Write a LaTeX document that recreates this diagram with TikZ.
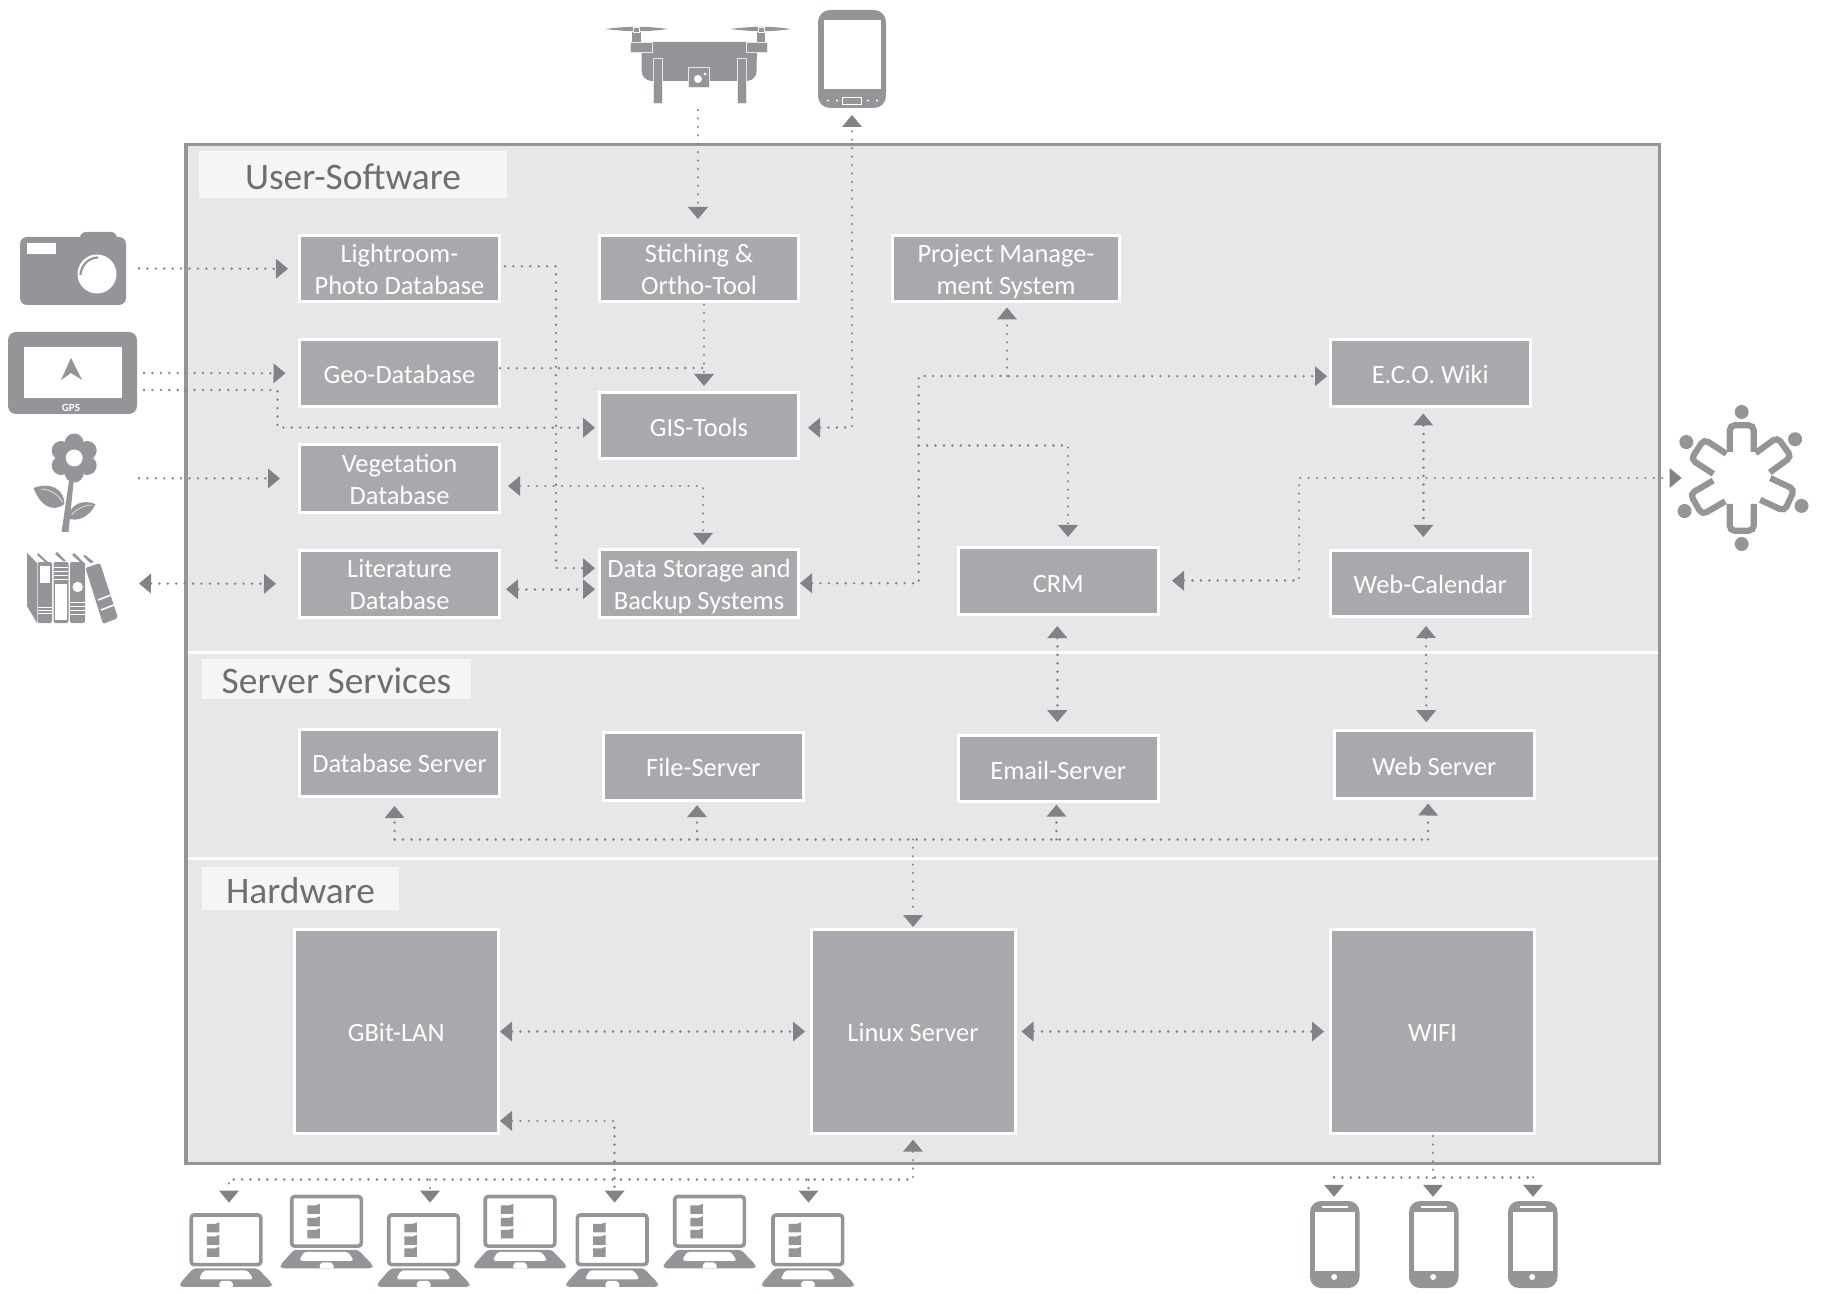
\documentclass[tikz,border=0pt]{standalone}
\usepackage{fontspec}
\setmainfont{Carlito}
\usetikzlibrary{arrows.meta,calc}
\definecolor{bgc}{HTML}{E6E7E8}
\definecolor{boxc}{HTML}{A7A9AC}
\definecolor{icoc}{HTML}{939598}
\definecolor{arrc}{HTML}{808285}
\definecolor{lblc}{HTML}{F4F6F6}
\definecolor{txtc}{HTML}{6D6E71}
\newcommand{\tst}{\rule[-3.05pt]{0pt}{16pt}}
\newcommand{\sst}{\rule[-2.4pt]{0pt}{20pt}}
\tikzset{
  conn/.style={draw=arrc,fill=none,line width=1.3pt,line cap=round,dash pattern=on 0.01pt off 4.2pt},
  >={Triangle[length=6pt,width=10pt,line width=0pt]},
  boxn/.style={draw=white,fill=boxc,line width=1.5pt,text=white,align=center,inner sep=0pt,
    font=\fontsize{13.2}{16}\selectfont},
  secn/.style={fill=lblc,text=txtc,inner sep=0pt,font=\fontsize{18.7}{20}\selectfont},
  ico/.style={fill=icoc,draw=none},
  wht/.style={fill=white,draw=none},
}
\newcommand{\bx}[6]{\node[boxn,minimum width={(#4-#2-3)*0.5pt},minimum height={(#5-#3-3)*0.5pt}] (#1) at ({(#2+#4)/2},{(#3+#5)/2}) {#6};}
\newcommand{\secbox}[6]{\node[secn,minimum width={(#4-#2)*0.5pt},minimum height={(#5-#3)*0.5pt}] (#1) at ({(#2+#4)/2},{(#3+#5)/2}) {\sst #6};}
\newcommand{\lapt}[2]{%
\begin{scope}[shift={(#1,#2)}]
  \draw[draw=icoc,fill=white,line width=1.8pt,rounded corners=1.5pt] (1.7,1.7) rectangle (71.3,51.3);
  \fill[ico,rounded corners=1.5pt] (4,55) -- (68,55) -- (82.5,70) -- (82.5,73.5) -- (-9.5,73.5) -- (-9.5,70) -- cycle;
  \fill[wht,rounded corners=1.5pt] (14,57) -- (58,57) -- (64,66) -- (9,66) -- cycle;
  \fill[wht,rounded corners=.8pt] (29,73.5) -- (31,67.5) -- (42,67.5) -- (44.5,73.5) -- cycle;
  \foreach \yy in {9,21.5,33.5} {
    \fill[ico] (17.3,\yy+1.5) -- (26,\yy+1.5) -- (29.8,\yy) -- (29.8,\yy+10) -- (17.3,\yy+10) -- cycle;
  }
\end{scope}}
\newcommand{\phone}[1]{%
\begin{scope}[shift={(#1,1201)}]
  \fill[ico,rounded corners=5.5pt] (0,0) rectangle (49.5,87);
  \fill[wht] (4.5,11) rectangle (44.7,70);
  \fill[wht] (11.5,5.3) rectangle (37.7,6.8);
  \fill[wht] (24.2,76) circle (3);
\end{scope}}
\begin{document}
\begin{tikzpicture}[x=0.5pt,y=-0.5pt]
\useasboundingbox (0,0) rectangle (1821,1294);
% frame
\draw[draw=icoc,fill=bgc,line width=1.6pt] (186,144.8) rectangle (1659.5,1163.2);
\draw[white,line width=1.3pt] (187.5,652.5) -- (1658,652.5);
\draw[white,line width=1.3pt] (187.5,858.2) -- (1658,858.2);
% section labels
\secbox{lusr}{199}{151.5}{507}{198}{User-Software}
\secbox{lsrv}{202}{658.5}{471}{699}{Server Services}
\secbox{lhw}{202}{866.5}{399}{910}{Hardware}
% boxes
\bx{lrm}{298}{234}{501}{303.5}{\tst Lightroom-\\\tst Photo Database}
\bx{stch}{598}{234}{800}{303.5}{\tst Stiching \&\\\tst Ortho-Tool}
\bx{pms}{891}{234}{1121}{303.5}{\tst Project Manage-\\\tst ment System}
\bx{geo}{298}{338}{501}{408.5}{\tst Geo-Database}
\bx{gis}{598}{391}{800}{460.5}{\tst\raisebox{-.5pt}{GIS-Tools}}
\bx{veg}{298}{443}{501}{514}{\tst Vegetation\\\tst Database}
\bx{lit}{298}{548.5}{501}{619}{\tst Literature\\\tst Database}
\bx{dsb}{598}{548}{800}{618.5}{\tst Data Storage and\\\tst Backup Systems}
\bx{wiki}{1329}{338}{1531.5}{408.5}{\tst E.C.O. Wiki}
\bx{crm}{957}{546}{1159.5}{615.5}{\tst\raisebox{-1pt}{CRM}}
\bx{wcal}{1329}{548.5}{1531.5}{618}{\tst Web-Calendar}
\bx{dbs}{298}{727.6}{501}{798.2}{\tst Database Server}
\bx{fils}{602}{731.3}{804.5}{801.5}{\tst\raisebox{-.3pt}{File-Server}}
\bx{mail}{957}{734.3}{1159.5}{803}{\tst\raisebox{-.3pt}{Email-Server}}
\bx{webs}{1333}{729.3}{1535.5}{800}{\tst\raisebox{-.3pt}{Web Server}}
\bx{gbit}{293}{928}{499.5}{1135}{\tst GBit-LAN}
\bx{lnx}{809.5}{928}{1016.5}{1135}{\tst Linux Server}
\bx{wifi}{1329}{928}{1536}{1135}{\tst WIFI}
% free ends
\coordinate (drn) at (698,110);
\coordinate (tabp) at (852,115);
\coordinate (cam) at (139,268.5);
\coordinate (gpsa) at (144,373);
\coordinate (gpsb) at (144,390);
\coordinate (flw) at (139,478.25);
\coordinate (bks) at (139,583.5);
\coordinate (teamp) at (1681.6,478);
\coordinate (lapa) at (229,1202.6);
\coordinate (lapb) at (430,1202.6);
\coordinate (lapc) at (614.6,1202.6);
\coordinate (lapd) at (808.5,1202.6);
\coordinate (pha) at (1334,1196.8);
\coordinate (phb) at (1433,1196.8);
\coordinate (phc) at (1533,1196.8);
% helper corners
\coordinate (c1) at (556,568);
\coordinate (c2) at (277.5,427.5);
\coordinate (c3) at (918.7,376);
\coordinate (c3b) at (918.7,445.3);
\coordinate (c3c) at (1007,376);
\coordinate (c4) at (1299,478);
\coordinate (jg) at (704,368);
\coordinate (busl) at (394.6,839.4);
\coordinate (busr) at (1428,839.4);
\coordinate (busf) at (697,839.4);
\coordinate (busm) at (1056.5,839.4);
\coordinate (busx) at (913,839.4);
\coordinate (bota) at (913,1179.7);
\coordinate (botb) at (229,1179.7);
\coordinate (botc) at (430,1179.7);
\coordinate (botd) at (808.5,1179.7);
\coordinate (wfa) at (1334,1177.2);
\coordinate (wfc) at (1533,1177.2);
% connectors
\draw[conn,->] (drn) -- ($(stch.north)+(-1,-15)$);
\draw[conn,<->] ($(gis.east)+(8,2)$) -| (tabp);
\draw[conn,->] (cam) -- ($(lrm.west)+(-10,0)$);
\draw[conn,->] ($(lrm.east)+(4,-2.5)$) -| (c1) -- ($(dsb.west)+(-3,-15)$);
\draw[conn,->] ($(stch.south)+(5,1)$) -- ($(gis.north)+(5,-5)$);
\draw[conn] ($(geo.east)+(-1,-5)$) -- (jg);
\draw[conn,->] (gpsa) -- ($(geo.west)+(-12.5,0)$);
\draw[conn,->] (gpsb) -| (c2) -- ($(gis.west)+(-3,2)$);
\draw[conn,->] (flw) -- ($(veg.west)+(-18,0)$);
\draw[conn,<->] ($(veg.east)+(7,7.5)$) -| ($(dsb.north)+(4,-3)$);
\draw[conn,<->] (bks) -- ($(lit.west)+(-22,0)$);
\draw[conn,<->] ($(lit.east)+(5,5.5)$) -- ($(dsb.west)+(-3,6)$);
\draw[conn,<->] ($(dsb.east)+(0,0)$) -| (c3) -- ($(wiki.west)+(-2,3)$);
\draw[conn,->] (c3c) -- ($(pms.south)+(1,4)$);
\draw[conn,->] (c3b) -| ($(crm.north)+(9.75,-9)$);
\draw[conn,<->] ($(wiki.south)+(-7,5)$) -- ($(wcal.north)+(-7,-11.5)$);
\draw[conn,<->] ($(crm.east)+(12.5,0)$) -| (c4) -- (teamp);
\draw[conn,<->] ($(crm.south)+(-1,10.5)$) -- ($(mail.north)+(-1,-12.1)$);
\draw[conn,<->] ($(wcal.south)+(-4.25,8)$) -- ($(webs.north)+(-8,-7.1)$);
\draw[conn] (busl) -- (busr);
\draw[conn,->] (busl) -- ($(dbs.south)+(-5,7.8)$);
\draw[conn,->] (busf) -- ($(fils.south)+(-6.2,3.7)$);
\draw[conn,->] (busm) -- ($(mail.south)+(-1.75,1.7)$);
\draw[conn,->] (busr) -- ($(webs.south)+(-6.2,3.5)$);
\draw[conn,->] (busx) -- ($(lnx.north)+(0,-1)$);
\draw[conn,<->] ($(gbit.east)+(.5,0)$) -- ($(lnx.west)+(-4.5,0)$);
\draw[conn,<->] ($(lnx.east)+(5,0)$) -- ($(wifi.west)+(-5,0)$);
\draw[conn,<->] ($(lnx.south)+(0,4.7)$) -- (bota) -- (botb) -- (lapa);
\draw[conn,->] (botc) -- (lapb);
\draw[conn,->] (botd) -- (lapd);
\draw[conn,<->] ($(gbit.east)+(.5,89.4)$) -| (lapc);
\draw[conn,->] ($(wifi.south)+(.5,1)$) -- (phb);
\draw[conn] (wfa) -- (wfc);
\draw[conn,->] (wfa) -- (pha);
\draw[conn,->] (wfc) -- (phc);
% drone
\fill[ico,rounded corners=5pt] (641.7,42) -- (756.7,42) -- (756.7,81) -- (641.7,81) -- cycle;
\fill[ico] (641.7,42) rectangle (756.7,60);
\fill[ico] (605,29) .. controls (630,26) and (645,26) .. (668,29) .. controls (645,32) and (630,32) .. (605,29) -- cycle;
\fill[ico] (730,29) .. controls (755,26) and (770,26) .. (791,29) .. controls (770,32) and (755,32) .. (730,29) -- cycle;
\fill[ico] (632,32) rectangle (641,42);
\fill[ico] (757,32) rectangle (765,42);
\draw[ico,draw=lblc,line width=.4pt] (633.5,27) rectangle (639.5,32);
\draw[ico,draw=lblc,line width=.4pt] (758,27) rectangle (764,32);
\draw[ico,draw=bgc,line width=.4pt] (630,42) rectangle (652,52);
\draw[ico,draw=bgc,line width=.4pt] (746,42) rectangle (767,52);
\draw[ico,draw=bgc,line width=.4pt] (653,58) rectangle (662,103);
\draw[ico,draw=bgc,line width=.4pt] (737,58) rectangle (746,103);
\draw[ico,draw=bgc,line width=.5pt] (688,68) rectangle (709,88);
\fill[wht] (698,79) circle (4);
\fill[wht] (705,74) circle (1.5);
% tablet
\fill[ico,rounded corners=6pt] (818,10) rectangle (886,108);
\fill[wht] (824,20) rectangle (881,89);
\draw[white,line width=.4pt] (842,97) rectangle (861,104);
\foreach \xx in {828,837,868,877} {\fill[wht] (\xx,100.5) circle (1.2);}
% camera
\fill[ico,rounded corners=3.5pt] (20,237) rectangle (126,305);
\fill[ico,rounded corners=3pt] (80,232) rectangle (117,245);
\fill[wht] (27,243.5) rectangle (56,254.5);
\fill[wht] (97,274) circle (19.5);
\draw[icoc,line width=1.1pt] (98,257.5) .. controls (89,257.5) and (81,265) .. (80.5,275);
% gps
\fill[ico,rounded corners=4pt] (8,332) rectangle (137,414);
\fill[wht] (24,347) rectangle (122,398);
\fill[ico] (71,358) -- (82,380) -- (71,373) -- (61,380) -- cycle;
\node[text=white,font=\fontsize{5.5}{6}\selectfont\bfseries,inner sep=0pt] (gpsl) at (71,408) {GPS};
% flower
\begin{scope}[shift={(2.5,1)}]
\foreach \aa in {90,150,210,270,330,30} {\fill[ico] ($(71.7,457)+(\aa:15 and 15)$) circle (9.5);}
\fill[ico] (71.7,457) circle (14);
\fill[wht] (71.7,457) circle (8.5);
\fill[ico] (67,477) -- (71.5,477) -- (66,531) -- (59,531) -- cycle;
\fill[ico] (31,487) .. controls (50,480) and (62,490) .. (62,503) .. controls (50,512) and (38,505) .. (31,487) -- cycle;
\fill[ico] (65,517) .. controls (68,503) and (80,498) .. (93,503) .. controls (88,515) and (75,522) .. (65,517) -- cycle;
\draw[white,line width=.25pt] (38,488) .. controls (48,488) and (56,494) .. (60,501);
\draw[white,line width=.25pt] (69,514) .. controls (74,508) and (82,504) .. (90,504);
\end{scope}
% books
\fill[ico] (27,553) -- (37,563) -- (37,623) -- (27,606) -- cycle;
\fill[ico,rounded corners=1pt] (37.5,562) rectangle (52,623);
\fill[wht] (39.5,566) rectangle (50,583);
\foreach \yy in {607,610,613} {\draw[white,line width=.3pt] (38,\yy) -- (52,\yy);}
\fill[ico] (38,553) -- (48,562) -- (45,562) -- (37,555) -- cycle;
\fill[ico,rounded corners=1pt] (53.5,562) rectangle (68.5,623);
\fill[wht] (55,584) rectangle (67,620);
\foreach \yy in {567,571,575,579} {\draw[white,line width=.3pt] (54,\yy) -- (68,\yy);}
\fill[ico] (57,552) -- (66,561) -- (63,561) -- (55,554) -- cycle;
\fill[ico,rounded corners=1pt] (70,562) rectangle (85,623);
\fill[wht] (77.7,587) circle (5.2);
\foreach \yy in {602,606,610,614} {\draw[white,line width=.3pt] (70,\yy) -- (85,\yy);}
\fill[ico] (74,553) -- (83,562) -- (80,562) -- (72,555) -- cycle;
\fill[ico,rounded corners=1pt] (85.5,568) -- (100,563) -- (118,618) -- (103,624) -- cycle;
\fill[ico] (85,555) -- (94,562) -- (90,563) -- (83,556) -- cycle;
\draw[white,line width=.8pt] (98,600) -- (111,595);
\draw[white,line width=.8pt] (101,610) -- (114,605);
% team
\foreach \rr in {0,-54,-115,180,120,57} {
\begin{scope}[shift={(1741.7,478)},rotate=\rr]
  \draw[icoc,line width=3.1pt,rounded corners=2.5pt,line cap=butt] (-12,-26) -- (-12,-52.7) -- (12,-52.7) -- (12,-26);
  \fill[ico] (0,-66) circle (7);
\end{scope}}
% laptops
\lapt{189.5}{1213.3}
\lapt{387}{1213.3}
\lapt{575.7}{1213.3}
\lapt{771.3}{1213.3}
\lapt{290}{1194.8}
\lapt{483.5}{1194.8}
\lapt{673}{1194.8}
% phones
\phone{1310}
\phone{1409}
\phone{1508}
\end{tikzpicture}
\end{document}
